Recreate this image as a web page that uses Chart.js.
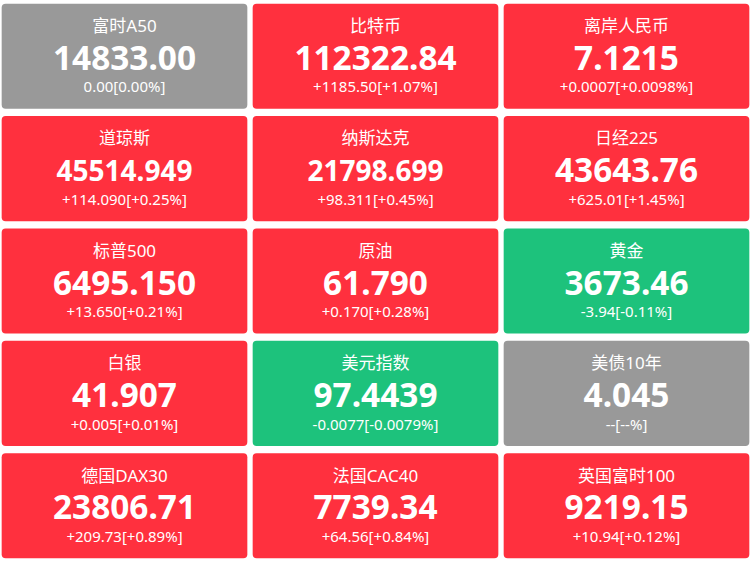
<!DOCTYPE html>
<html lang="zh">
<head>
<meta charset="utf-8">
<title>行情</title>
<script src="https://cdn.jsdelivr.net/npm/chart.js@4/dist/chart.umd.min.js"></script>
<style>
html,body{margin:0;padding:0;background:#fff;overflow:hidden}
#wrap{position:absolute;left:-1px;top:0;width:753px;height:562px}
canvas{display:block}
</style>
</head>
<body>
<div id="wrap"><canvas id="c" width="753" height="562"></canvas></div>
<script>
const columns = ['col1', 'col2', 'col3'];
const rows = ['row1', 'row2', 'row3', 'row4', 'row5'];
const names = [
  ['富时A50', '比特币', '离岸人民币'],
  ['道琼斯', '纳斯达克', '日经225'],
  ['标普500', '原油', '黄金'],
  ['白银', '美元指数', '美债10年'],
  ['德国DAX30', '法国CAC40', '英国富时100']
];
const prices = [
  ['14833.00', '112322.84', '7.1215'],
  ['45514.949', '21798.699', '43643.76'],
  ['6495.150', '61.790', '3673.46'],
  ['41.907', '97.4439', '4.045'],
  ['23806.71', '7739.34', '9219.15']
];
const changes = [
  ['0.00[0.00%]', '+1185.50[+1.07%]', '+0.0007[+0.0098%]'],
  ['+114.090[+0.25%]', '+98.311[+0.45%]', '+625.01[+1.45%]'],
  ['+13.650[+0.21%]', '+0.170[+0.28%]', '-3.94[-0.11%]'],
  ['+0.005[+0.01%]', '-0.0077[-0.0079%]', '--[--%]'],
  ['+209.73[+0.89%]', '+64.56[+0.84%]', '+10.94[+0.12%]']
];
const UP = '#ff303e', DOWN = '#1dc27c', FLAT = '#999999';
function tone(ch) {
  if (ch[0] === '+') return UP;
  if (ch[0] === '-' && ch[1] !== '-') return DOWN;
  return FLAT;
}
function priceSize(p) {
  return p.length >= 9 && p.indexOf('.') === 5 ? 28 : 33.4;
}
const FONT = '"Noto Sans","Noto Sans CJK SC",sans-serif';
const labelPlugin = {
  id: 'tileText',
  beforeDraw(chart) {
    const c = chart.ctx;
    c.save(); c.fillStyle = '#fff'; c.fillRect(0, 0, chart.width, chart.height); c.restore();
  },
  afterDatasetsDraw(chart) {
    const c = chart.ctx;
    c.save();
    c.fillStyle = '#fff';
    c.textAlign = 'center';
    c.textBaseline = 'middle';
    rows.forEach((_, r) => {
      chart.getDatasetMeta(r).data.forEach((el, i) => {
        const cy = (el.y + el.base) / 2;
        c.font = '17px ' + FONT;
        c.fillText(names[r][i], el.x, cy - 29);
        c.font = 'bold ' + priceSize(prices[r][i]) + 'px ' + FONT;
        c.fillText(prices[r][i], el.x, cy + 4);
        c.font = '15px ' + FONT;
        c.fillText(changes[r][i], el.x, cy + 32);
      });
    });
    c.restore();
  }
};
const canvas = document.getElementById('c');
canvas.getContext('2d', { alpha: false });
new Chart(canvas, {
  type: 'bar',
  data: {
    labels: columns,
    datasets: rows.map((label, r) => ({
      label,
      data: columns.map(() => [r, r + 1]),
      backgroundColor: changes[r].map(tone),
      borderColor: '#ffffff',
      borderWidth: { left: 3, right: 3, top: 4, bottom: 4 },
      borderSkipped: false,
      borderRadius: 8,
      grouped: false,
      barPercentage: 1,
      categoryPercentage: 1
    }))
  },
  options: {
    responsive: false,
    animation: false,
    devicePixelRatio: 1,
    layout: { padding: 0 },
    plugins: { legend: { display: false }, tooltip: { enabled: false }, title: { display: false } },
    scales: {
      x: { display: false, grid: { display: false } },
      y: { display: false, reverse: true, min: 0, max: rows.length, grid: { display: false } }
    }
  },
  plugins: [labelPlugin]
});
</script>
</body>
</html>
